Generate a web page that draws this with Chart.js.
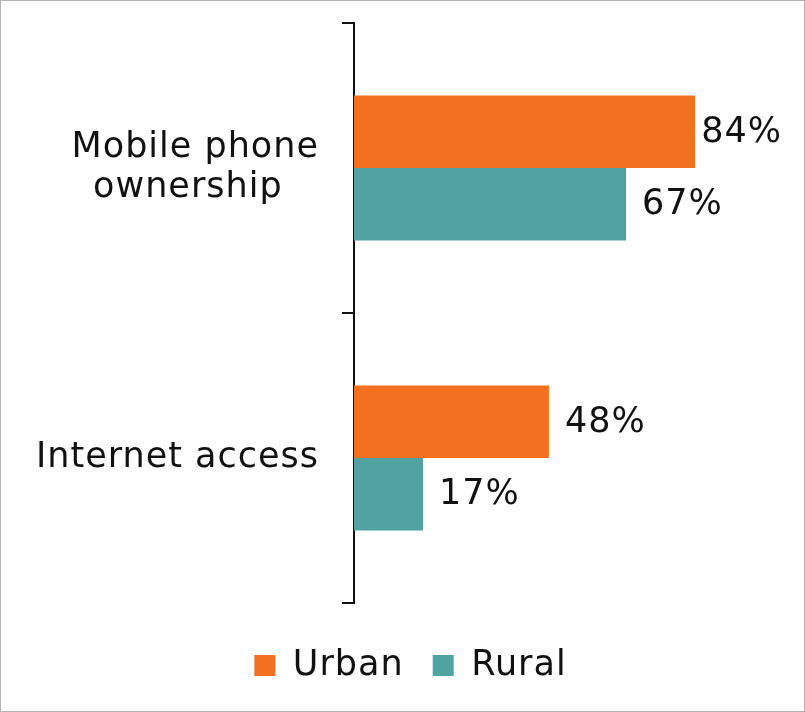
<!DOCTYPE html>
<html>
<head>
<meta charset="utf-8">
<script src="https://cdn.jsdelivr.net/npm/chart.js@4"></script>
<style>
  body { margin: 0; background: #fff; }
  #wrap { width: 805px; height: 712px; box-sizing: border-box; border: 1px solid #b3b3b3; }
  canvas { display: block; }
</style>
</head>
<body>
<div id="wrap"><canvas id="chart" width="803" height="710"></canvas></div>
<script>
// categories and values (percent)
const categories = [['Mobile phone', 'ownership   '], 'Internet access'];
const urban = [84, 48];
const rural = [67, 17];
const seriesNames = ['Urban', 'Rural'];

const ORANGE = '#F37021';
const TEAL = '#50A3A1';
const FONT = 'DejaVu Sans';
const SIZE = 35;
const SPACING = '1px';

// slightly wider tracking for all text on the canvas
const tracking = {
  id: 'tracking',
  beforeUpdate(chart) { chart.ctx.letterSpacing = SPACING; },
  beforeDraw(chart) { chart.ctx.letterSpacing = SPACING; }
};

// no extra space above/below the category axis
const tightAxis = (scale) => {
  scale.width = 353;
  scale.paddingTop = 0;
  scale.paddingBottom = 0;
};

// nudge the legend row down and to the right
const legendShift = {
  id: 'legendShift',
  afterLayout(chart) {
    const lg = chart.legend;
    lg.top += 16; lg.bottom += 16;
    lg.left += 30; lg.right += 30;
  }
};

// writes "NN%" past the end of each bar, kept inside the canvas
const valueLabels = {
  id: 'valueLabels',
  afterDatasetsDraw(chart) {
    const ctx = chart.ctx;
    ctx.save();
    ctx.font = SIZE + 'px "' + FONT + '"';
    ctx.fillStyle = '#111';
    ctx.textAlign = 'left';
    ctx.textBaseline = 'middle';
    chart.data.datasets.forEach((ds, i) => {
      chart.getDatasetMeta(i).data.forEach((bar, j) => {
        const txt = ds.data[j] + '%';
        const w = ctx.measureText(txt).width;
        const x = Math.min(bar.x + 16, chart.width - 22 - w);
        ctx.fillText(txt, x, bar.y + 1);
      });
    });
    ctx.restore();
  }
};

new Chart(document.getElementById('chart'), {
  type: 'bar',
  data: {
    labels: categories,
    datasets: [
      { label: seriesNames[0], data: urban, backgroundColor: ORANGE },
      { label: seriesNames[1], data: rural, backgroundColor: TEAL }
    ]
  },
  options: {
    indexAxis: 'y',
    responsive: false,
    animation: false,
    categoryPercentage: 0.5,
    barPercentage: 1.0,
    layout: { padding: { top: 22, right: 44, bottom: 34 } },
    scales: {
      x: { display: false, min: 0, max: 100 },
      y: {
        offset: true,
        border: { display: true, color: '#111', width: 2 },
        grid: { offset: true, drawOnChartArea: false, tickLength: 12, color: '#111', lineWidth: 2 },
        ticks: { padding: 23, color: '#111', font: { family: FONT, size: SIZE, lineHeight: 1.12 } },
        afterFit: tightAxis
      }
    },
    plugins: {
      tooltip: { enabled: false },
      legend: {
        position: 'bottom',
        labels: {
          color: '#111',
          boxWidth: 21,
          boxHeight: 21,
          padding: 29,
          font: { family: FONT, size: SIZE }
        }
      }
    }
  },
  plugins: [tracking, legendShift, valueLabels]
});
</script>
</body>
</html>
